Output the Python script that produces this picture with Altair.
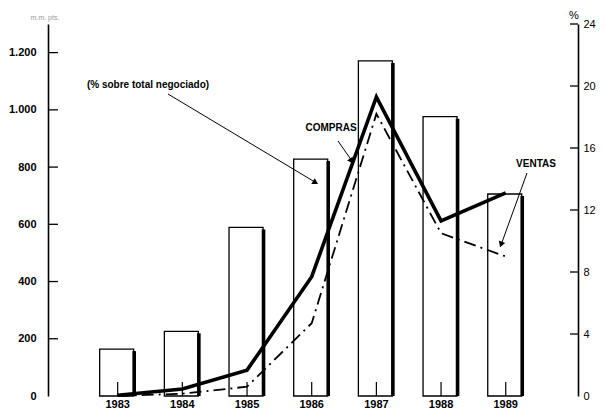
import altair as alt
import pandas as pd

# ---- data ----
years = [1983, 1984, 1985, 1986, 1987, 1988, 1989]
volumen = [164, 226, 589, 828, 1171, 976, 706]          # m.m. pts. (left axis)
compras = [0.05, 0.45, 1.67, 7.7, 19.3, 11.3, 13.1]     # % (right axis)
ventas = [0.0, 0.15, 0.6, 4.7, 18.2, 10.5, 9.0]         # % (right axis)
left_ticks = [0, 200, 400, 600, 800, 1000, 1200]
right_ticks = [0, 4, 8, 12, 16, 20, 24]

W, H = 530, 372
FONT = "Liberation Sans"

bars_df = pd.DataFrame({"year": years, "vol": volumen})
comp_df = pd.DataFrame({"year": years, "pct": compras})
vent_df = pd.DataFrame({"year": years, "pct": ventas})
lt_df = pd.DataFrame({"vol": left_ticks[1:]})
rt_df = pd.DataFrame({"pct": right_ticks[1:]})
yr_df = pd.DataFrame({"year": years, "label": [str(y) for y in years]})
one = alt.Data(values=[{"k": 1}])

xscale = alt.Scale(domain=[1982, 1990.04], nice=False, zero=False)
x_axis = alt.Axis(values=years, ticks=False, labels=False,
                  domainWidth=1.6, domainColor="black", grid=False, title=None)
X = alt.X("year:Q", scale=xscale, axis=x_axis)
Xn = alt.X("year:Q", scale=xscale, axis=None)

yl_scale = alt.Scale(domain=[0, 1300], nice=False)
yl_axis = alt.Axis(orient="left", values=left_ticks, format=",d",
                   labelExpr="replace(datum.label, ',', '.')",
                   ticks=False, labelPadding=12, domainWidth=1.6,
                   domainColor="black", grid=False, title=None,
                   labelFont=FONT, labelFontWeight="bold", labelFontSize=11,
                   labelColor="black")
yr_scale = alt.Scale(domain=[0, 24], nice=False)
yr_axis = alt.Axis(orient="right", values=right_ticks, ticks=False,
                   labelPadding=5, domainWidth=1.6, domainColor="black",
                   grid=False, title=None, labelFont=FONT, labelFontSize=11,
                   labelColor="black")

bars = alt.Chart(bars_df).mark_bar(width=34, xOffset=-1, fill="white",
                                   stroke="black", strokeWidth=1.3).encode(
    x=X, y=alt.Y("vol:Q", scale=yl_scale, axis=yl_axis))
shadow = alt.Chart(bars_df).mark_rule(strokeWidth=3.6, xOffset=16.5,
                                      color="black", yOffset=2).encode(
    x=Xn, y=alt.Y("vol:Q", scale=yl_scale, axis=None), y2=alt.value(H))
lticks = alt.Chart(lt_df).mark_rule(strokeWidth=1.3, color="black").encode(
    y=alt.Y("vol:Q", scale=yl_scale, axis=None), x=alt.value(0), x2=alt.value(10))
xticks = alt.Chart(yr_df).mark_rule(strokeWidth=1.2, color="black").encode(
    x=Xn, y=alt.value(H - 14), y2=alt.value(H))
xlabels = alt.Chart(yr_df).mark_text(font=FONT, fontSize=11, fontWeight="bold",
                                     color="black", baseline="top",
                                     align="center").encode(
    x=Xn, y=alt.value(H + 3), text="label:N")

comp_line = alt.Chart(comp_df).mark_line(color="black", strokeWidth=3.6,
                                         strokeJoin="miter").encode(
    x=Xn, y=alt.Y("pct:Q", scale=yr_scale, axis=yr_axis))
vent_line = alt.Chart(vent_df).mark_line(color="black", strokeWidth=1.8,
                                         strokeDash=[12, 5, 2, 5]).encode(
    x=Xn, y=alt.Y("pct:Q", scale=yr_scale, axis=None))
rticks = alt.Chart(rt_df).mark_rule(strokeWidth=1.3, color="black").encode(
    y=alt.Y("pct:Q", scale=yr_scale, axis=None), x=alt.value(W - 8), x2=alt.value(W))


def text(t, x, y, size=10, weight="bold", color="black", align="center"):
    return alt.Chart(one).mark_text(text=t, font=FONT, fontSize=size,
                                    fontWeight=weight, color=color,
                                    align=align, baseline="middle").encode(
        x=alt.value(x), y=alt.value(y))


def line(x1, y1, x2, y2):
    return alt.Chart(one).mark_rule(strokeWidth=1, color="black").encode(
        x=alt.value(x1), y=alt.value(y1), x2=alt.value(x2), y2=alt.value(y2))


def head(x, y, ang):
    return alt.Chart(one).mark_point(shape="triangle-right", filled=True,
                                     size=45, angle=ang, color="black",
                                     opacity=1).encode(
        x=alt.value(x), y=alt.value(y))


notes = [
    text("(% sobre total negociado)", 100, 61),
    line(120, 70, 268.5, 159), head(267.5, 158.5, 31),
    text("COMPRAS", 283, 104),
    line(290, 117, 304, 137), head(303.5, 137, 55.7),
    text("VENTAS", 488, 140),
    line(479, 149, 453, 221), head(453, 220.5, 110),
    text("m.m. pts.", -3, -6, size=7, weight="normal", color="#999999"),
    text("%", 526, -8, size=11, weight="normal"),
]

chart = alt.layer(bars, shadow, lticks, xticks, xlabels, comp_line, vent_line,
                  rticks, *notes).resolve_scale(y="independent").properties(
    width=W, height=H,
    autosize=alt.AutoSizeParams(type="none"),
    padding={"left": 40, "top": 16, "right": 19, "bottom": 15},
    background="white",
).configure_view(stroke=None)

chart.save("out.html", embed_options={"renderer": "svg", "actions": False})
